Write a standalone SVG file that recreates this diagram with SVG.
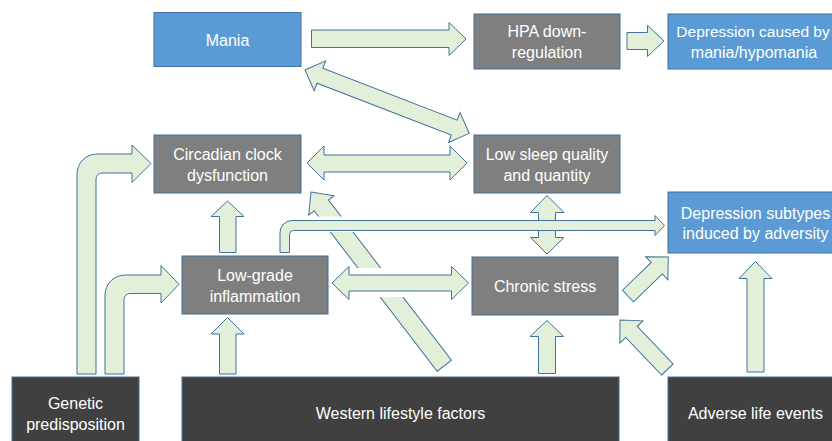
<svg xmlns="http://www.w3.org/2000/svg" width="832" height="441" viewBox="0 0 832 441">
<style>
.box{stroke:#41719C;stroke-width:1}
.blue{fill:#5B9BD5}
.gray{fill:#7F7F7F}
.dark{fill:#404040}
.t{font-family:"Liberation Sans",Arial,sans-serif;font-size:16px;fill:#FFFFFF;text-anchor:middle}
.arr{fill:#E2F0D9;stroke:#41719C;stroke-width:1;stroke-linejoin:miter}
</style>
<rect width="832" height="441" fill="#FFFFFF"/>
<g id="connectors">
  <path id="c-mania-hpa" class="arr" d="M311.5,30 L449,30 L449,22.5 L466,39 L449,55.5 L449,47.5 L311.5,47.5 Z"/>
  <path id="c-hpa-dep" class="arr" d="M627,32.5 L647.5,32.5 L647.5,25.5 L664,41 L647.5,56.5 L647.5,49.5 L627,49.5 Z"/>
  <path id="c-mania-sleep" class="arr" transform="translate(305,70) rotate(21.1)" d="M0,0 L16,-16 L16,-8 L160,-8 L160,-16 L176,0 L160,16 L160,8 L16,8 L16,16 Z"/>
  <path id="c-circ-sleep" class="arr" d="M307,163 L324,146 L324,155 L450,155 L450,146 L467,163 L450,180 L450,172 L324,172 L324,180 Z"/>
  <path id="c-gen-circ" class="arr" d="M77,374 L77,174 A20,20 0 0 1 97,154 L132,154 L132,145 L151,163.5 L132,182.5 L132,173 L102,173 A6,6 0 0 0 96,179 L96,374 Z"/>
  <path id="c-gen-infl" class="arr" d="M105,374 L105,295 A20,20 0 0 1 125,275 L161,275 L161,265.5 L179,284.3 L161,303 L161,293.5 L130,293.5 A6,6 0 0 0 124,299.5 L124,374 Z"/>
  <path id="c-infl-circ" class="arr" d="M219.5,252.5 L219.5,216.5 L211,216.5 L227.5,201 L244,216.5 L236,216.5 L236,252.5 Z"/>
  <path id="c-west-infl" class="arr" d="M219.5,374 L219.5,334 L211,334 L227.5,317.5 L244,334 L236,334 L236,374 Z"/>
  <path id="c-sleep-stress" class="arr" d="M547,195.5 L564,212.5 L555.5,212.5 L555.5,237.5 L564,237.5 L547,254 L530.5,237.5 L538.5,237.5 L538.5,212.5 L530.5,212.5 Z"/>
  <path id="c-west-circ" class="arr" transform="translate(311,192) rotate(52.5)" d="M0,0 L17,-16 L17,-9 L219,-9 L219,9 L17,9 L17,16 Z"/>
  <rect x="300" y="216.5" width="120" height="15.5" fill="#FFFFFF"/>
  <rect x="352" y="268" width="96" height="29" fill="#FFFFFF"/>
  <path id="c-infl-depsub" class="arr" d="M280,252.5 L280,232.5 A12,12 0 0 1 292,220.5 L655,220.5 L655,215.5 L664.5,225.5 L655,235.5 L655,230.5 L293.5,230.5 A4,4 0 0 0 289.5,234.5 L289.5,252.5 Z"/>
  <path id="c-infl-stress" class="arr" d="M332,283 L349,266.5 L349,275 L451.5,275 L451.5,266.5 L468.5,283 L451.5,299.5 L451.5,291 L349,291 L349,299.5 Z"/>
  <path id="c-west-stress" class="arr" d="M538.5,373.5 L538.5,336.5 L530,336.5 L547,320.5 L563.5,336.5 L555.5,336.5 L555.5,373.5 Z"/>
  <path id="c-stress-depsub" class="arr" transform="translate(628,296) rotate(-44)" d="M0,-8 L40,-8 L40,-16 L56,0 L40,16 L40,8 L0,8 Z"/>
  <path id="c-adv-stress" class="arr" transform="translate(620,320) rotate(46.2)" d="M0,0 L16.5,-16 L16.5,-8 L68.5,-8 L68.5,8 L16.5,8 L16.5,16 Z"/>
  <path id="c-adv-depsub" class="arr" d="M747,372 L747,278.5 L739,278.5 L755.5,261.5 L772,278.5 L764,278.5 L764,372 Z"/>
</g>
<g id="mania">
  <rect class="box blue" x="154" y="12.5" width="147" height="54"/>
  <text class="t" x="227.5" y="45.5">Mania</text>
</g>
<g id="hpa">
  <rect class="box gray" x="474" y="14" width="146" height="55"/>
  <text class="t" x="547" y="37">HPA down-</text>
  <text class="t" x="547" y="57.5">regulation</text>
</g>
<g id="dep-mania">
  <rect class="box blue" x="668" y="14" width="180" height="55"/>
  <text class="t" x="753" y="37" style="font-size:15.5px">Depression caused by</text>
  <text class="t" x="754" y="57.5">mania/hypomania</text>
</g>
<g id="circadian">
  <rect class="box gray" x="154" y="135" width="147" height="58"/>
  <text class="t" x="227.5" y="159.5">Circadian clock</text>
  <text class="t" x="227.5" y="180.5">dysfunction</text>
</g>
<g id="sleep">
  <rect class="box gray" x="474" y="135" width="146" height="58"/>
  <text class="t" x="547" y="159.5">Low sleep quality</text>
  <text class="t" x="547" y="180.5">and quantity</text>
</g>
<g id="dep-adversity">
  <rect class="box blue" x="668" y="192" width="180" height="61"/>
  <text class="t" x="755.5" y="219">Depression subtypes</text>
  <text class="t" x="755.5" y="239">induced by adversity</text>
</g>
<g id="inflammation">
  <rect class="box gray" x="182" y="256" width="146" height="58"/>
  <text class="t" x="255" y="280.5">Low-grade</text>
  <text class="t" x="255" y="301.5">inflammation</text>
</g>
<g id="stress">
  <rect class="box gray" x="472" y="257" width="146" height="58"/>
  <text class="t" x="545" y="292.3">Chronic stress</text>
</g>
<g id="genetic">
  <rect class="box dark" x="12" y="377" width="127" height="72"/>
  <text class="t" x="75.5" y="409">Genetic</text>
  <text class="t" x="75.5" y="429.5">predisposition</text>
</g>
<g id="western">
  <rect class="box dark" x="182" y="377" width="437" height="72"/>
  <text class="t" x="400.5" y="419">Western lifestyle factors</text>
</g>
<g id="adverse">
  <rect class="box dark" x="668" y="377" width="180" height="72"/>
  <text class="t" x="755.5" y="419">Adverse life events</text>
</g>
</svg>
